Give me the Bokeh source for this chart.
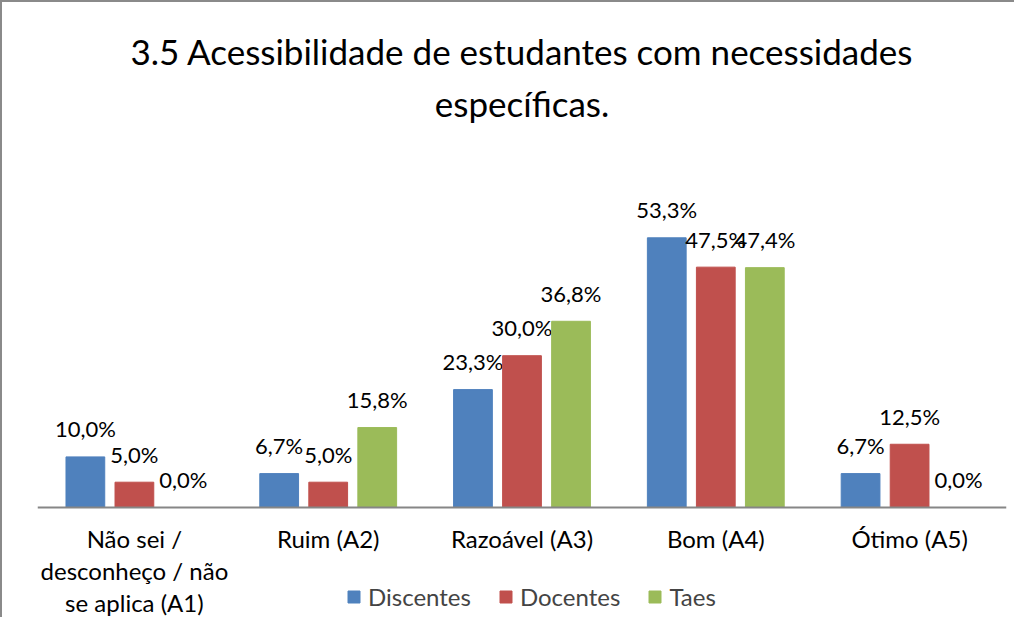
from bokeh.plotting import figure
from bokeh.models import FactorRange, Range1d, Span, Legend, LegendItem, ColumnDataSource, Title
from bokeh.transform import dodge
from bokeh.core.properties import value
from bokeh.embed import file_html
from bokeh.resources import INLINE

categories = ["Não sei /\ndesconheço / não\nse aplica (A1)", "Ruim (A2)", "Razoável (A3)", "Bom (A4)", "Ótimo (A5)"]
series_names = ["Discentes", "Docentes", "Taes"]
discentes = [10.0, 6.7, 23.3, 53.3, 6.7]
docentes = [5.0, 5.0, 30.0, 47.5, 12.5]
taes = [0.0, 15.8, 36.8, 47.4, 0.0]
colors = ["#4F81BD", "#C0504D", "#9BBB59"]
title_lines = ["3.5 Acessibilidade de estudantes com necessidades", "específicas."]

FONT = "Lato"
W, H = 1014, 617
px_per_unit = 5.06
top_border = 130
baseline = 505  # y of value 0 inside the figure
y_end = (baseline - top_border) / px_per_unit
y_start = -(H - baseline) / px_per_unit

def fmt(v):
    return f"{v:.1f}".replace(".", ",") + "%"

data = {"cat": categories}
series = [discentes, docentes, taes]
for name, vals in zip(series_names, series):
    data[name] = vals
    data[name + "_lbl"] = [fmt(v) for v in vals]
src = ColumnDataSource(data)

p = figure(x_range=FactorRange(*categories, range_padding=0), y_range=Range1d(y_start, y_end),
           width=W, height=H, output_backend="svg", toolbar_location=None,
           x_axis_type=None, y_axis_type=None,
           min_border_left=35, min_border_right=10, min_border_top=top_border, min_border_bottom=0)
p.outline_line_color = None
p.background_fill_color = "white"
p.border_fill_color = "white"
p.styles = {"border-left": "2px solid #8a8a8a", "border-top": "2px solid #8a8a8a"}

p.title = None
for i, line in enumerate(reversed(title_lines)):
    p.add_layout(Title(text=line, align="center", text_font=FONT, text_font_size="35px",
                       text_font_style="normal", text_color="black", offset=0,
                       standoff=(17 if i == 0 else 0)), "above")

offsets = [-0.253, 0.0, 0.253]
renderers = []
for name, off, col in zip(series_names, offsets, colors):
    r = p.vbar(x=dodge("cat", off, range=p.x_range), top=name, width=0.2, source=src,
               fill_color=col, line_color=col)
    renderers.append(r)
    p.text(x=dodge("cat", off, range=p.x_range), y=name, text=name + "_lbl", source=src,
           text_align="center", text_baseline="middle", y_offset=-28,
           text_font=value(FONT), text_font_size="22px", text_color="black")

p.add_layout(Span(location=0, dimension="width", line_color="#868686", line_width=2))

p.text(x="cat", y=0, text="cat", source=src, text_align="center", text_baseline="top",
       y_offset=16, text_font=value(FONT), text_font_size="24px", text_color="black",
       text_line_height=1.12)

legend = Legend(items=[LegendItem(label=n, renderers=[r]) for n, r in zip(series_names, renderers)],
                orientation="horizontal", location=(309, 8), glyph_width=15, glyph_height=15,
                label_standoff=7, spacing=27, padding=0, border_line_color=None,
                background_fill_alpha=0, label_text_font=FONT, label_text_font_size="24px",
                label_height=15, margin=0)
p.add_layout(legend)

open("out.html", "w").write(file_html(p, INLINE))
